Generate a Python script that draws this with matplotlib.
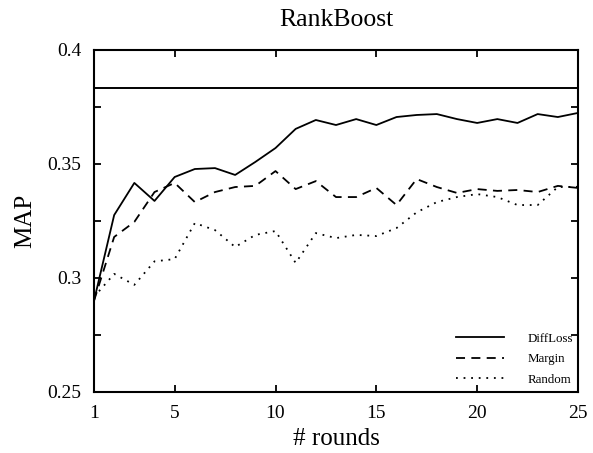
import matplotlib
matplotlib.use("Agg")
import matplotlib.pyplot as plt

rounds = list(range(1, 26))
diffloss = [0.290, 0.3276, 0.3417, 0.3338, 0.3443, 0.3478, 0.3482, 0.3452, 0.3509, 0.3570,
            0.3654, 0.3693, 0.3671, 0.3697, 0.3671, 0.3706, 0.3715, 0.3719, 0.3697, 0.3680,
            0.3697, 0.3680, 0.3719, 0.3706, 0.3724]
margin = [0.290, 0.3180, 0.3246, 0.3377, 0.3417, 0.3333, 0.3377, 0.3399, 0.3404, 0.3469,
          0.3390, 0.3425, 0.3355, 0.3355, 0.3395, 0.3320, 0.3434, 0.3399, 0.3373, 0.3390,
          0.3382, 0.3386, 0.3377, 0.3404, 0.3395]
random_ = [0.2917, 0.3018, 0.2970, 0.3073, 0.3083, 0.3241, 0.3210, 0.3136, 0.3189, 0.3206,
           0.3066, 0.3197, 0.3175, 0.3189, 0.3184, 0.3219, 0.3288, 0.3333, 0.3355, 0.3368,
           0.3355, 0.3320, 0.3320, 0.3399, 0.3400]
upper_bound = 0.3833

xticks = [1, 5, 10, 15, 20, 25]
yticks_major = [0.25, 0.3, 0.35, 0.4]
ytick_labels = ["0.25", "0.3", "0.35", "0.4"]
yticks_minor = [0.275, 0.325, 0.375]

plt.rcParams['font.family'] = ['Liberation Serif', 'DejaVu Serif']

fig = plt.figure(figsize=(5.93, 4.53), dpi=100)
ax = fig.add_axes([94/593, 1-392/453, (578-94)/593, (392-50)/453])

ax.axhline(upper_bound, color='black', lw=1.4)
ax.plot(rounds, diffloss, color='black', lw=1.3, ls='-', label='DiffLoss')
ax.plot(rounds, margin, color='black', lw=1.3, ls=(0, (5, 3.5)), label='Margin')
ax.plot(rounds, random_, color='black', lw=1.3, ls=(0, (1, 3.2)), label='Random')

ax.set_xlim(1, 25)
ax.set_ylim(0.25, 0.4)
ax.set_xticks(xticks)
ax.set_xticklabels([str(t) for t in xticks], fontsize=14)
ax.set_yticks(yticks_major)
ax.set_yticklabels(ytick_labels, fontsize=14)
ax.set_yticks(yticks_minor, minor=True)
ax.tick_params(which='both', direction='in', top=True, right=True, length=5, width=1.3)
ax.tick_params(which='minor', length=5)
ax.tick_params(axis='x', pad=9)
ax.tick_params(axis='y', pad=9)
for s in ax.spines.values():
    s.set_linewidth(1.5)

ax.set_title('RankBoost', fontsize=18.5, pad=17)
ax.set_xlabel('# rounds', fontsize=18, labelpad=5)
ax.set_ylabel('MAP', fontsize=18, labelpad=8)

leg = ax.legend(loc='lower right', frameon=False, fontsize=9.3, handlelength=3.7,
                handletextpad=1.85, labelspacing=0.65, borderpad=0, borderaxespad=0,
                bbox_to_anchor=(0.99, 0.018))

fig.savefig('out.png', dpi=100)
